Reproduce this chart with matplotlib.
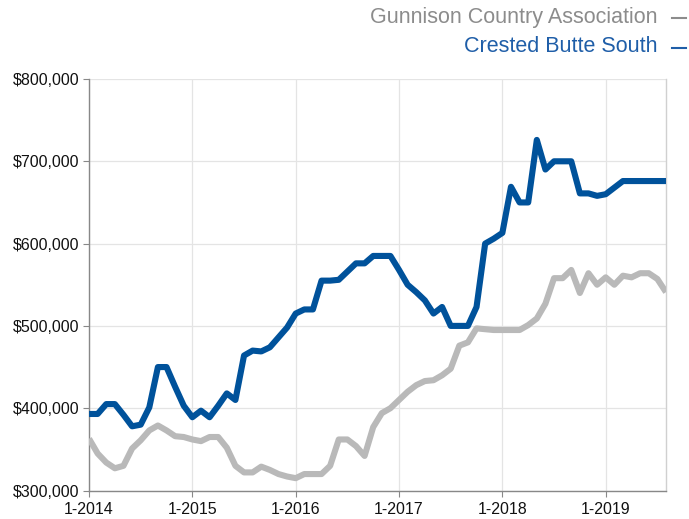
import matplotlib
matplotlib.use('Agg')
from matplotlib import pyplot as plt
from matplotlib.lines import Line2D
from matplotlib.ticker import FuncFormatter

plt.rcParams['font.family'] = ['Liberation Sans', 'DejaVu Sans']

# monthly values, 1-2014 .. 8-2019
months = list(range(68))
crested_butte_south = [
    393, 393, 405, 405, 392, 378, 380, 401, 450, 450, 426, 403,
    389, 397, 389, 403, 418, 410, 464, 470, 469, 474, 486, 498,
    515, 520, 520, 555, 555, 556, 566, 576, 576, 585, 585, 585,
    568, 550, 541, 531, 515, 523, 500, 500, 500, 523, 600, 606,
    613, 669, 650, 650, 726, 690, 700, 700, 700, 661, 661, 658,
    660, 668, 676, 676, 676, 676, 676, 676,
]
gunnison_country = [
    363, 345, 334, 327, 330, 351, 361, 373, 379, 373, 366, 365,
    362, 360, 365, 365, 352, 330, 322, 322, 329, 325, 320, 317,
    315, 320, 320, 320, 330, 362, 362, 354, 342, 377, 394, 400,
    410, 420, 428, 433, 434, 440, 448, 476, 480, 497, 496, 495,
    495, 495, 495, 501, 509, 527, 558, 558, 568, 540, 564, 550,
    559, 550, 561, 559, 564, 564, 557, 541,
]
gunnison_country = [v * 1000 for v in gunnison_country]
crested_butte_south = [v * 1000 for v in crested_butte_south]

tick_pos = [0, 12, 24, 36, 48, 60]
tick_labels = ['1-2014', '1-2015', '1-2016', '1-2017', '1-2018', '1-2019']

blue = '#00529b'
gray = '#b9b9b9'

fig = plt.figure(figsize=(6.89, 5.19), dpi=100)
ax = fig.add_axes([0.1292, 0.0549, 0.8374, 0.7929])

ax.plot(months, gunnison_country, color=gray, lw=4.4,
        solid_joinstyle='round', solid_capstyle='butt', zorder=3)
ax.plot(months, crested_butte_south, color=blue, lw=4.4,
        solid_joinstyle='round', solid_capstyle='butt', zorder=4)

ax.set_xlim(0, 67)
ax.set_ylim(300000, 800000)
ax.set_xticks(tick_pos)
ax.set_xticklabels(tick_labels)
ax.set_yticks(range(300000, 800001, 100000))
ax.yaxis.set_major_formatter(FuncFormatter(lambda v, p: '${:,.0f}'.format(v)))

ax.grid(True, color='#e4e4e4', lw=0.9, zorder=0)
ax.tick_params(axis='both', labelsize=11.5, colors='#888888', length=4, width=0.8,
               labelcolor='#111111')
ax.tick_params(axis='y', pad=3)
ax.tick_params(axis='x', pad=4)

for s in ['left', 'bottom']:
    ax.spines[s].set_color('#888888')
    ax.spines[s].set_linewidth(1.0)
ax.spines['right'].set_color('#d0d0d0')
ax.spines['right'].set_linewidth(1.0)
ax.spines['top'].set_visible(False)

# legend at the top right
W, H = 689.0, 519.0
fig.text(658 / W, 1 - 17 / H, 'Gunnison Country Association', ha='right', va='center',
         fontsize=15.5, color='#8c8c8c')
fig.text(658 / W, 1 - 47 / H, 'Crested Butte South', ha='right', va='center',
         fontsize=15.5, color='#1f5ea8')
fig.add_artist(Line2D([672 / W, 686 / W], [1 - 18 / H, 1 - 18 / H], color='#8c8c8c', lw=1.5))
fig.add_artist(Line2D([672 / W, 686 / W], [1 - 48 / H, 1 - 48 / H], color='#1f5ea8', lw=1.5))

fig.savefig('out.png', dpi=100)
